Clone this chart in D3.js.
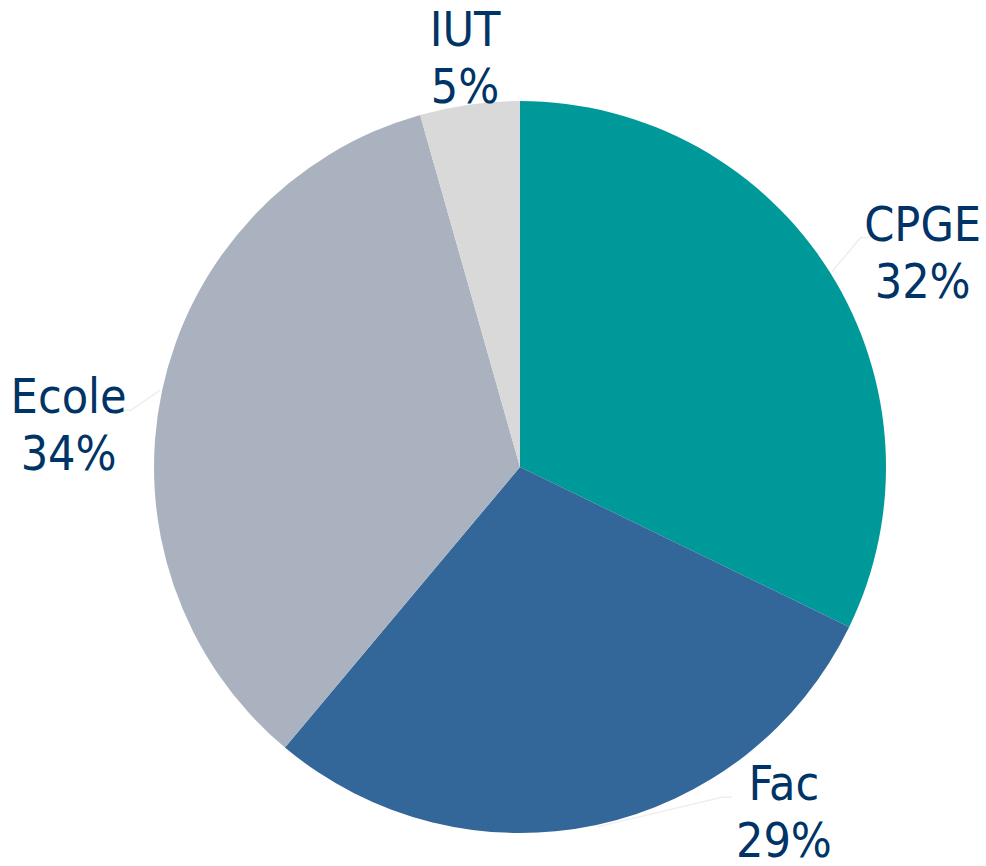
<!DOCTYPE html>
<html>
<head>
<meta charset="utf-8">
<script src="https://cdn.jsdelivr.net/npm/d3@7"></script>
<style>
  html, body { margin: 0; padding: 0; background: #fff; }
  svg { display: block; }
</style>
</head>
<body>
<svg id="chart"></svg>
<script>
// data (clockwise from 12 o'clock)
const categories = ["CPGE", "Fac", "Ecole", "IUT"];
const values = [32.2, 28.9, 34.5, 4.4];
const percentLabels = ["32%", "29%", "34%", "5%"];
const colors = ["#009999", "#336699", "#abb2bf", "#d9d9d9"];

// label placement around the pie (angle in degrees from top, distance from centre)
const labelLayout = [
  {angle: 64, dist: 448},
  {angle: 144, dist: 449},
  {angle: 273, dist: 452},
  {angle: 352, dist: 395}
];

const width = 986, height = 866;
const cx = 520, cy = 467, radius = 366;

const svg = d3.select("#chart")
  .attr("width", width)
  .attr("height", height);

const g = svg.append("g")
  .attr("transform", `translate(${cx},${cy})`);

const data = categories.map((c, i) => ({name: c, value: values[i], pct: percentLabels[i], color: colors[i], lay: labelLayout[i]}));

const pie = d3.pie()
  .value(d => d.value)
  .sort(null);

const arc = d3.arc()
  .innerRadius(0)
  .outerRadius(radius);

const arcs = pie(data);

// faint leader lines
const leaders = g.append("g");
arcs.forEach(a => {
  if (a.data.name === "IUT") return;
  const mid = (a.startAngle + a.endAngle) / 2;
  const la = a.data.lay.angle * Math.PI / 180;
  const p0 = [Math.sin(mid) * (radius + 2), -Math.cos(mid) * (radius + 2)];
  const lx = Math.sin(la) * a.data.lay.dist;
  const ly = -Math.cos(la) * a.data.lay.dist;
  const side = lx > 0 ? -1 : 1;
  const p2 = [lx + side * 62, ly - 33];
  const p1 = [p2[0] - side * 10, p2[1]];
  leaders.append("polyline")
    .attr("points", [p0, p2, p1].map(p => p.join(",")).join(" "))
    .attr("fill", "none")
    .attr("stroke", "#eeeeee")
    .attr("stroke-width", 1.5);
});

g.selectAll("path.slice")
  .data(arcs)
  .enter()
  .append("path")
  .attr("class", "slice")
  .attr("d", arc)
  .attr("fill", d => d.data.color);

const labels = g.selectAll("text.lbl")
  .data(arcs)
  .enter()
  .append("text")
  .attr("class", "lbl")
  .attr("text-anchor", "middle")
  .attr("font-family", "'DejaVu Sans Condensed', 'DejaVu Sans', sans-serif")
  .attr("font-stretch", "condensed")
  .attr("font-size", 48)
  .attr("fill", "#003366")
  .attr("transform", d => {
      const la = d.data.lay.angle * Math.PI / 180;
      return `translate(${Math.sin(la) * d.data.lay.dist},${-Math.cos(la) * d.data.lay.dist})`;
  });

labels.append("tspan")
  .attr("x", 0)
  .attr("y", -30)
  .text(d => d.data.name);

labels.append("tspan")
  .attr("x", 0)
  .attr("y", 27)
  .text(d => d.data.pct);
</script>
</body>
</html>
